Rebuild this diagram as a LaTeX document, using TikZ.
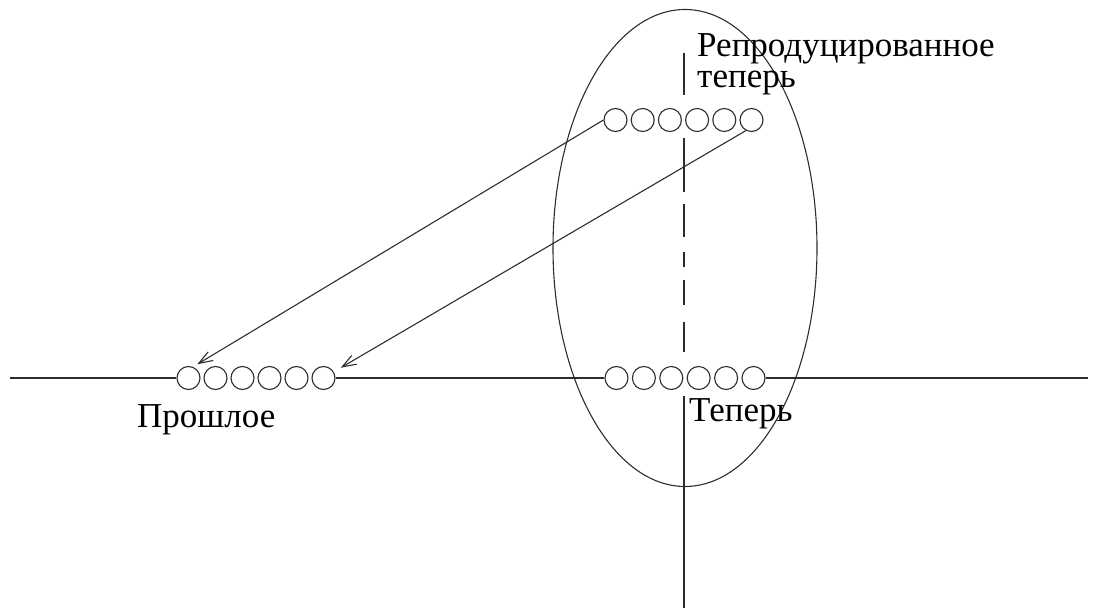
\documentclass[tikz,border=0pt]{standalone}
\usepackage{fontspec}
\setmainfont{Liberation Serif}
\usetikzlibrary{arrows.meta, shapes.geometric}
\definecolor{linegray}{RGB}{45, 45, 45}

\begin{document}
\begin{tikzpicture}[
    x=1pt, y=-1pt,
    ln/.style={draw=linegray, line width=1.1pt},
    bead/.style={circle, ln, minimum size=23pt, inner sep=0pt},
    arr/.style={ln, -{Straight Barb[length=14pt, width=10pt]}},
    lbl/.style={font=\fontsize{35}{31}\selectfont, inner sep=0pt, text=black},
]
\useasboundingbox (0,0) rectangle (1093,612);

% present ellipse
\node[ellipse, ln, minimum width=264pt, minimum height=477pt, inner sep=0pt] (span) at (685,248) {};

% beads
\foreach \i in {1,...,6} {
  \node[bead] (r\i) at ({615.5+27.2*(\i-1)},120) {};
  \node[bead] (n\i) at ({616.5+27.4*(\i-1)},378) {};
  \node[bead] (p\i) at ({188.5+27*(\i-1)},378) {};
}

% axes
\coordinate (west) at (10,378);
\coordinate (east) at (1088,378);
\coordinate (top) at (684,53);
\coordinate (dashend) at (684,352);
\coordinate (solidtop) at (684,396);
\coordinate (bottom) at (684,608);

\draw[ln] (west) -- (p1.west);
\draw[ln] (p6.east) -- (n1.west);
\draw[ln] (n6.east) -- (east);
\draw[ln, dash pattern=on 42pt off 43pt on 54pt off 12pt on 33pt off 15pt on 15pt off 13pt on 25pt off 17pt on 30pt off 10pt] (top) -- (dashend);
\draw[ln] (solidtop) -- (bottom);

% reproduction arrows
\draw[arr, shorten >=5pt] (r1.west) -- (p1.68);
\draw[arr, shorten >=8pt] (r6.242) -- (p6.31);

% labels
\node[lbl, anchor=base west, align=left] (repr) at (697,88) {Репродуцированное\\теперь};
\node[lbl, anchor=base west] (nowlbl) at (689,421) {Теперь};
\node[lbl, anchor=base west] (past) at (137,428) {Прошлое};

\end{tikzpicture}
\end{document}
